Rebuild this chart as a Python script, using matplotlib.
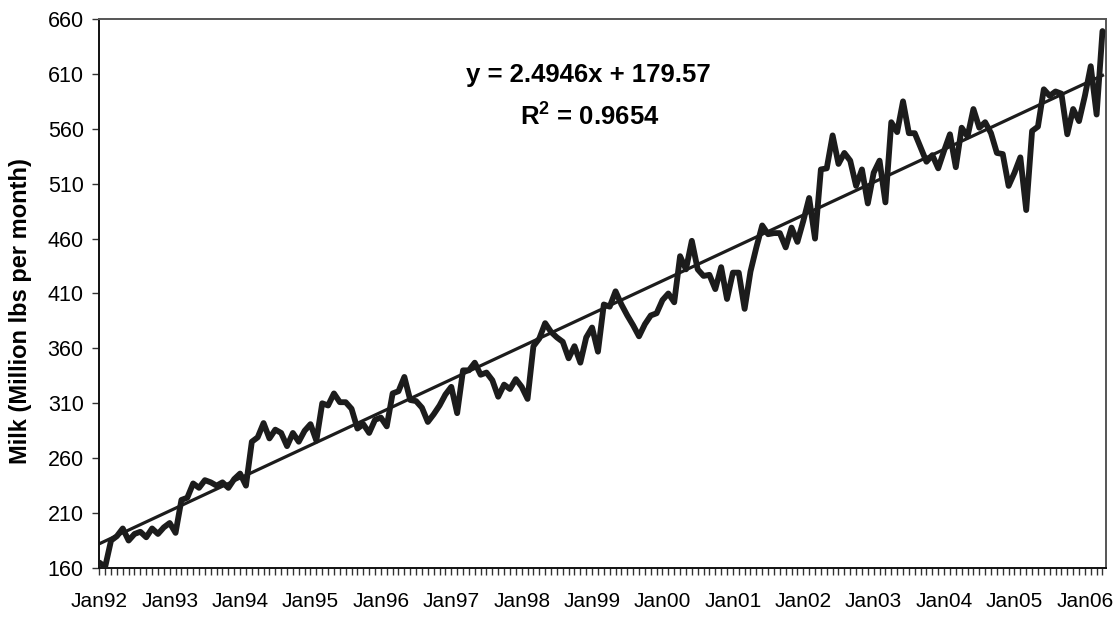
import matplotlib
matplotlib.use("Agg")
import matplotlib.pyplot as plt
import numpy as np
from matplotlib.ticker import MultipleLocator, FixedLocator

plt.rcParams['font.family'] = ['Liberation Sans', 'DejaVu Sans']
plt.rcParams['mathtext.fontset'] = 'custom'
plt.rcParams['mathtext.rm'] = 'Liberation Sans'
plt.rcParams['mathtext.bf'] = 'Liberation Sans:bold'

# Monthly milk production, Jan 1992 - Apr 2006
milk = [
    165, 161, 185, 189, 196, 185, 191, 193, 188, 196, 191, 197,   # 1992
    201, 192, 222, 224, 237, 233, 240, 238, 235, 238, 233, 241,   # 1993
    246, 235, 275, 279, 292, 278, 286, 283, 271, 283, 275, 285,   # 1994
    291, 276, 310, 308, 319, 311, 311, 305, 287, 291, 283, 295,   # 1995
    297, 289, 319, 321, 334, 313, 312, 306, 293, 300, 308, 318,   # 1996
    325, 301, 340, 340, 347, 336, 338, 331, 316, 327, 323, 332,   # 1997
    325, 314, 362, 369, 383, 375, 370, 366, 351, 362, 347, 370,   # 1998
    379, 357, 400, 398, 412, 400, 390, 381, 371, 382, 390, 392,   # 1999
    404, 410, 402, 444, 432, 458, 432, 426, 427, 414, 434, 405,   # 2000
    429, 429, 396, 430, 452, 472, 464, 465, 465, 452, 470, 457,   # 2001
    476, 497, 460, 523, 524, 554, 528, 538, 531, 508, 523, 492,   # 2002
    520, 531, 493, 566, 557, 585, 556, 556, 543, 530, 536, 524,   # 2003
    540, 555, 525, 561, 553, 578, 561, 566, 556, 538, 537, 508,   # 2004
    520, 534, 486, 558, 562, 596, 590, 594, 592, 555, 578, 567,   # 2005
    590, 617, 573, 649,                                           # 2006
]
year_labels = ["Jan92", "Jan93", "Jan94", "Jan95", "Jan96", "Jan97", "Jan98",
               "Jan99", "Jan00", "Jan01", "Jan02", "Jan03", "Jan04", "Jan05", "Jan06"]
slope, intercept, r2 = 2.4946, 179.57, 0.9654
y_ticks = [160, 210, 260, 310, 360, 410, 460, 510, 560, 610, 660]

n = len(milk)
idx = np.arange(n)
trend = intercept + slope * (idx + 1)

W, H = 1119, 619
fig = plt.figure(figsize=(W / 100, H / 100), dpi=100)
left, right, top, bottom = 99, 1106, 19, 568
ax = fig.add_axes([left / W, 1 - bottom / H, (right - left) / W, (bottom - top) / H])

line_color = '#1c1c1c'
ax.plot(idx, milk, color=line_color, lw=4.2, solid_joinstyle='round', solid_capstyle='round', zorder=3)
ax.plot(idx, trend, color=line_color, lw=2.3, zorder=2)

ax.set_xlim(-0.05, 171.6)
ax.set_ylim(160, 660)
ax.yaxis.set_major_locator(FixedLocator(y_ticks))
ax.xaxis.set_major_locator(FixedLocator(list(range(0, 12 * len(year_labels), 12))))
ax.set_xticklabels(year_labels)
ax.xaxis.set_minor_locator(MultipleLocator(1))

ax.tick_params(axis='x', which='both', direction='out', length=5, width=1, color='#333333',
               labelsize=15, pad=12)
ax.tick_params(axis='y', which='major', direction='out', length=5, width=1, color='#333333',
               labelsize=15.5, pad=6)

for s in ['left', 'bottom']:
    ax.spines[s].set_color('#111111')
    ax.spines[s].set_linewidth(1.4)
for s in ['top', 'right']:
    ax.spines[s].set_color('#555555')
    ax.spines[s].set_linewidth(1.4)

fig.text(21 / W, 1 - 311 / H, "Milk (Million lbs per month)", rotation=90,
         ha='center', va='center', fontsize=17, fontweight='bold')

ax.text(588, 1 - 75 / H, "", transform=fig.transFigure)
fig.text(588 / W, 1 - 75 / H, f"y = {slope}x + {intercept}", ha='center', va='center',
         fontsize=18.5, fontweight='bold')
fig.text(590 / W, 1 - 117 / H, r"$\mathbf{R^2}$" + f" = {r2}", ha='center', va='center',
         fontsize=18.5, fontweight='bold')

fig.savefig("out.png", dpi=100, facecolor='white')
